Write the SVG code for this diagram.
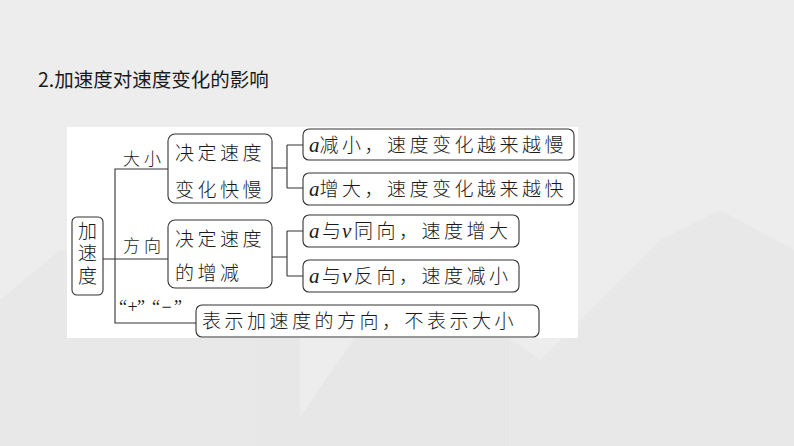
<svg xmlns="http://www.w3.org/2000/svg" width="794" height="446" viewBox="0 0 794 446">
<style>
.bx{fill:#fff;stroke:#333;stroke-width:1.1}
.ln{fill:none;stroke:#333;stroke-width:1.1}
.t{font-family:"Noto Sans CJK SC","Noto Sans CJK JP",sans-serif;font-size:19px;font-weight:300;fill:#1a1a1a;letter-spacing:3.5px}
.it{font-family:"Liberation Serif",serif;font-style:italic;font-size:21px;letter-spacing:0}
.ns{letter-spacing:0}
.lb{font-family:"Noto Sans CJK SC",sans-serif;font-size:17px;font-weight:300;fill:#1a1a1a;letter-spacing:4px}
.q{font-family:"Liberation Serif",serif;font-size:18px;fill:#1a1a1a}
</style>
<rect x="0" y="0" width="794" height="446" fill="#ededed"/>
<g id="background" fill="#e4e4e4" opacity="0.6">
<path d="M0 300 L60 250 L120 262 L180 230 L250 280 L300 320 L300 446 L0 446 Z"/>
<path d="M280 446 L360 330 L420 290 L470 310 L540 360 L600 300 L660 240 L720 210 L794 250 L794 446 Z"/>
</g>
<rect id="panel" x="67" y="127" width="511" height="211" fill="#fff"/>
<text id="title" x="38" y="87" font-family="'Noto Sans CJK SC','Noto Sans CJK JP',sans-serif" font-size="19.5" fill="#1a1a1a">2.加速度对速度变化的影响</text>
<g id="connectors">
<path class="ln" d="M103 259 H168"/>
<path class="ln" d="M168 169 H115 V323 H196"/>
<path class="ln" d="M272 168 H287 M287 145 V188 M287 145 H303 M287 188 H303"/>
<path class="ln" d="M272 257 H287 M287 231 V276 M287 231 H303 M287 276 H303"/>
</g>
<g id="n-root">
<rect class="bx" x="72" y="217" width="31" height="78" rx="5"/>
<text class="t" x="87.5" y="221" writing-mode="vertical-rl" letter-spacing="4.5">加速度</text>
</g>
<g id="l-size"><text class="lb" x="123" y="165">大小</text></g>
<g id="l-dir"><text class="lb" x="123" y="252">方向</text></g>
<g id="l-sign"><text class="q" y="313"><tspan x="119">“</tspan><tspan x="127.5">+</tspan><tspan x="137">”</tspan><tspan x="152">“</tspan><tspan x="161.5">−</tspan><tspan x="174">”</tspan></text></g>
<g id="n-size">
<rect class="bx" x="168" y="134" width="104" height="69" rx="7"/>
<text class="t" x="175" y="159.5">决定速度</text>
<text class="t" x="175" y="197">变化快慢</text>
</g>
<g id="n-dir">
<rect class="bx" x="168" y="220" width="104" height="68" rx="7"/>
<text class="t" x="175" y="246">决定速度</text>
<text class="t" x="175" y="280">的增减</text>
</g>
<g id="n-dec">
<rect class="bx" x="303" y="129" width="271" height="31" rx="6"/>
<text class="t" x="309" y="151.5"><tspan class="it">a</tspan>减小，速度变化越来越慢</text>
</g>
<g id="n-inc">
<rect class="bx" x="303" y="173" width="271" height="32" rx="6"/>
<text class="t" x="309" y="196"><tspan class="it">a</tspan>增大，速度变化越来越快</text>
</g>
<g id="n-same">
<rect class="bx" x="303" y="215" width="216" height="32" rx="6"/>
<text class="t" y="238"><tspan class="it" x="309">a</tspan><tspan class="ns" x="322">与</tspan><tspan class="it" x="342">v</tspan><tspan x="354">同向，速度增大</tspan></text>
</g>
<g id="n-opp">
<rect class="bx" x="303" y="260" width="216" height="32" rx="6"/>
<text class="t" y="283"><tspan class="it" x="309">a</tspan><tspan class="ns" x="322">与</tspan><tspan class="it" x="342">v</tspan><tspan x="354">反向，速度减小</tspan></text>
</g>
<g id="n-sign">
<rect class="bx" x="196" y="305" width="343" height="32" rx="6"/>
<text class="t" x="202" y="328" letter-spacing="4.2">表示加速度的方向，不表示大小</text>
</g>
</svg>
